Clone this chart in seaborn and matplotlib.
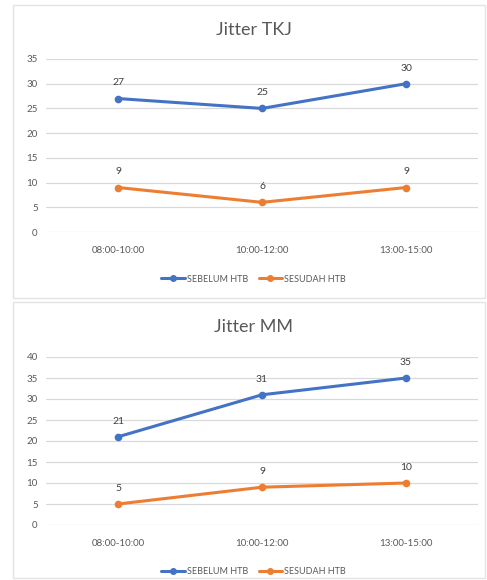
import matplotlib
matplotlib.use("Agg")
import matplotlib.pyplot as plt
from matplotlib.patches import Rectangle
from matplotlib.lines import Line2D
import seaborn as sns
import pandas as pd

sns.set_theme(style="white")
plt.rcParams["font.family"] = ["Lato", "DejaVu Sans"]

# Data
sessions = ["08:00-10:00", "10:00-12:00", "13:00-15:00"]
series_names = ["SEBELUM HTB", "SESUDAH HTB"]
tkj_sebelum = [27, 25, 30]
tkj_sesudah = [9, 6, 9]
mm_sebelum = [21, 31, 35]
mm_sesudah = [5, 9, 10]
titles = ["Jitter TKJ", "Jitter MM"]
y_limits = [35, 40]

BLUE = "#4472C4"
ORANGE = "#ED7D31"
GRID = "#d9d9d9"
TEXT = "#595959"

W, H = 487, 580
fig = plt.figure(figsize=(W / 100, H / 100), dpi=100)
fig.patch.set_facecolor("white")

# chart frames (pixel boxes: x0, y0_top, x1, y1_bottom)
frames = [(13, 5, 485, 298), (13, 302, 485, 578)]
for x0, y0, x1, y1 in frames:
    fig.add_artist(Rectangle((x0 / W, 1 - y1 / H), (x1 - x0) / W, (y1 - y0) / H,
                             transform=fig.transFigure, fill=False,
                             edgecolor="#e3e3e3", linewidth=1.0))

# axes placement in pixels: left, right, top (y at max), bottom (y at 0)
axes_px = [(46, 478, 59, 232), (46, 478, 357, 525)]
title_y = [30, 327]
legend_y = [279, 572]

datasets = [(tkj_sebelum, tkj_sesudah), (mm_sebelum, mm_sesudah)]

for i, (before, after) in enumerate(datasets):
    l, r, t, b = axes_px[i]
    ax = fig.add_axes([l / W, 1 - b / H, (r - l) / W, (b - t) / H])
    df = pd.DataFrame({
        "pos": list(range(len(sessions))) * 2,
        "value": before + after,
        "series": [series_names[0]] * len(sessions) + [series_names[1]] * len(sessions),
    })
    sns.lineplot(data=df, x="pos", y="value", hue="series",
                 palette=[BLUE, ORANGE], marker="o", markersize=5.5,
                 markeredgewidth=0, linewidth=2.2, ax=ax, legend=False,
                 zorder=3)
    ymax = y_limits[i]
    ax.set_ylim(0, ymax)
    ax.set_xlim(-0.5, len(sessions) - 0.5)
    ax.set_yticks(range(0, ymax + 1, 5))
    ax.set_xticks(range(len(sessions)))
    ax.set_xticklabels(sessions)
    ax.yaxis.grid(True, color=GRID, linewidth=0.9)
    ax.set_axisbelow(True)
    for s in ax.spines.values():
        s.set_visible(False)
    ax.set_xlabel("")
    ax.set_ylabel("")
    ax.tick_params(axis="both", length=0, labelsize=7, colors=TEXT)
    ax.tick_params(axis="y", pad=6)
    ax.tick_params(axis="x", pad=10)
    # value labels above each point
    for vals in (before, after):
        for x, v in enumerate(vals):
            ax.annotate(str(v), (x, v), xytext=(0, 8), textcoords="offset points",
                        ha="center", va="bottom", fontsize=7.5, color="#404040")
    fig.text(0.5 + 10 / W, 1 - title_y[i] / H, titles[i], ha="center", va="center",
             fontsize=13, color=TEXT)
    handles = [Line2D([], [], color=BLUE, marker="o", markersize=4, linewidth=2.2),
               Line2D([], [], color=ORANGE, marker="o", markersize=4, linewidth=2.2)]
    fig.legend(handles, series_names, loc="center",
               bbox_to_anchor=(0.5 + 10 / W, 1 - legend_y[i] / H), ncol=2,
               frameon=False, fontsize=6.5, labelcolor=TEXT, handlelength=2.6,
               handletextpad=0.2, columnspacing=1.2)

fig.savefig("out.png", dpi=100, facecolor="white")
